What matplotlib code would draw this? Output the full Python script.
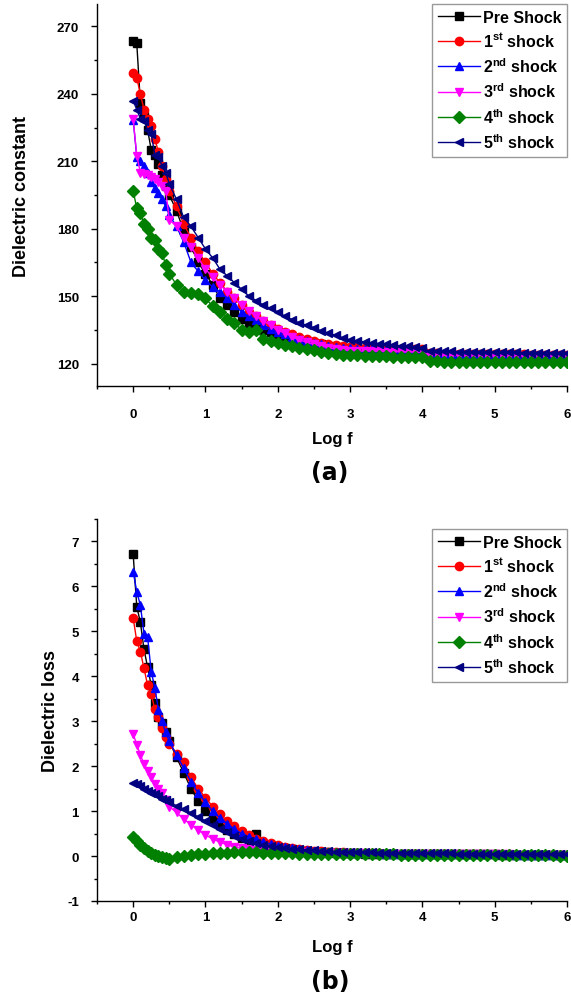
import matplotlib
matplotlib.use("Agg")
import matplotlib.pyplot as plt
from matplotlib.ticker import MultipleLocator

plt.rcParams["font.family"] = ["Liberation Sans", "DejaVu Sans"]
plt.rcParams["font.weight"] = "bold"
plt.rcParams["mathtext.fontset"] = "custom"
plt.rcParams["mathtext.rm"] = "Liberation Sans:bold"
plt.rcParams["mathtext.bf"] = "Liberation Sans:bold"
plt.rcParams["axes.unicode_minus"] = False

# log f grid (denser at the low-frequency end)
log_f = [0.0, 0.05, 0.1, 0.15, 0.2, 0.25, 0.3, 0.35, 0.4, 0.45,
         0.5, 0.6, 0.7, 0.8, 0.9, 1.0, 1.1, 1.2, 1.3, 1.4,
         1.5, 1.6, 1.7, 1.8, 1.9, 2.0, 2.1, 2.2, 2.3, 2.4,
         2.5, 2.6, 2.7, 2.8, 2.9, 3.0, 3.1, 3.2, 3.3, 3.4,
         3.5, 3.6, 3.7, 3.8, 3.9, 4.0, 4.1, 4.2, 4.3, 4.4,
         4.5, 4.6, 4.7, 4.8, 4.9, 5.0, 5.1, 5.2, 5.3, 5.4,
         5.5, 5.6, 5.7, 5.8, 5.9, 6.0]

labels = ["Pre Shock", "1$^{\\mathrm{st}}$ shock", "2$^{\\mathrm{nd}}$ shock",
          "3$^{\\mathrm{rd}}$ shock", "4$^{\\mathrm{th}}$ shock", "5$^{\\mathrm{th}}$ shock"]
colors = ["#000000", "#ff0000", "#0000ff", "#ff00ff", "#008000", "#000080"]
markers = ["s", "o", "^", "v", "D", "<"]

# (a) dielectric constant
eps_pre = [263.5, 262.5, 236, 230, 224, 215, 213, 209, 204, 199,
           195, 188, 179, 172, 165, 160, 155, 149, 146, 143,
           140, 138, 137, 135, 134, 133, 132, 131, 130, 129.5,
           129, 128.5, 128, 127.5, 127, 126.5, 126.4, 126.3, 126.2, 126.1,
           126.0, 125.9, 125.8, 125.7, 125.6, 125.5, 124.0, 124.0, 123.9, 123.9,
           123.8, 123.8, 123.8, 123.7, 123.7, 123.7, 123.6, 123.6, 123.6, 123.6,
           123.5, 123.5, 123.5, 123.5, 123.5, 123.5]
eps_1st = [249.5, 247, 240, 233, 229, 225.5, 220, 214, 208, 202,
           197, 190, 182, 176, 170, 165, 160, 156, 152, 149,
           146, 143, 141, 139, 137, 135.5, 134, 133, 132, 131,
           130, 129.3, 128.7, 128.2, 127.7, 127.3, 127.2, 127.1, 127.0, 126.9,
           126.8, 126.7, 126.6, 126.5, 126.4, 126.3, 124.5, 124.5, 124.4, 124.4,
           124.3, 124.3, 124.3, 124.2, 124.2, 124.2, 124.1, 124.1, 124.1, 124.1,
           124.0, 124.0, 124.0, 124.0, 124.0, 124.0]
eps_2nd = [228.5, 212, 210, 208, 205, 201, 198, 196, 193, 190,
           186, 181, 174, 165, 161, 157, 154, 152, 149, 146,
           143, 141, 139.5, 137, 135.5, 134, 133, 132, 131, 130,
           129, 128.5, 128, 127.5, 127, 126.7, 126.6, 126.5, 126.4, 126.3,
           126.2, 126.1, 126.0, 125.9, 125.9, 125.8, 124.3, 124.3, 124.2, 124.2,
           124.1, 124.1, 124.1, 124.0, 124.0, 124.0, 123.9, 123.9, 123.9, 123.9,
           123.8, 123.8, 123.8, 123.8, 123.8, 123.8]
eps_3rd = [229, 212.5, 205, 204.5, 204, 203, 202, 201, 199, 197,
           184, 181, 176, 172, 167, 162, 158.5, 155, 152, 149,
           146, 143.5, 141, 139, 137, 135, 133.5, 132, 130.5, 129.5,
           128.5, 127.8, 127, 126.5, 126, 125.7, 125.6, 125.5, 125.5, 125.4,
           125.3, 125.3, 125.2, 125.1, 125.1, 125.0, 123.8, 123.8, 123.7, 123.7,
           123.6, 123.6, 123.6, 123.5, 123.5, 123.5, 123.4, 123.4, 123.4, 123.4,
           123.3, 123.3, 123.3, 123.3, 123.3, 123.3]
eps_4th = [197, 189, 187, 182, 180, 176, 175, 171, 169, 164,
           160, 155, 152, 151.5, 151, 149, 145.5, 143, 140, 138,
           135, 134, 135, 131, 130, 129, 128.3, 127.6, 127, 126.4,
           125.8, 125.3, 124.8, 124.4, 124, 123.7, 123.6, 123.5, 123.4, 123.3,
           123.2, 123.1, 123.0, 122.9, 122.8, 122.7, 121.0, 121.0, 120.9, 120.9,
           120.9, 120.8, 120.8, 120.8, 120.7, 120.7, 120.7, 120.7, 120.6, 120.6,
           120.6, 120.6, 120.5, 120.5, 120.5, 120.5]
eps_5th = [237, 233, 229, 228, 224, 222, 213, 212, 208, 205,
           200, 193, 185, 181, 176, 171, 167, 162, 159, 156,
           153, 150, 148, 146, 144.5, 143, 141, 139.5, 138, 137,
           136, 134.5, 133.5, 132.5, 131.5, 130.5, 130, 129.6, 129.2, 128.8,
           128.5, 128.2, 127.9, 127.6, 127.3, 127.0, 125.5, 125.5, 125.4, 125.4,
           125.3, 125.3, 125.2, 125.2, 125.1, 125.1, 125.0, 125.0, 125.0, 124.9,
           124.9, 124.9, 124.8, 124.8, 124.8, 124.8]

# (b) dielectric loss
loss_pre = [6.72, 5.55, 5.2, 4.6, 4.2, 3.8, 3.4, 3.1, 2.95, 2.75,
            2.55, 2.2, 1.85, 1.5, 1.22, 1.0, 0.82, 0.68, 0.57, 0.48,
            0.41, 0.36, 0.48, 0.27, 0.23, 0.2, 0.17, 0.15, 0.13, 0.11,
            0.1, 0.09, 0.08, 0.07, 0.065, 0.06, 0.058, 0.056, 0.054, 0.052,
            0.05, 0.048, 0.047, 0.046, 0.045, 0.044, 0.043, 0.042, 0.041, 0.04,
            0.039, 0.038, 0.037, 0.036, 0.035, 0.035, 0.034, 0.034, 0.033, 0.033,
            0.032, 0.032, 0.031, 0.031, 0.03, 0.03]
loss_1st = [5.3, 4.78, 4.55, 4.18, 3.8, 3.6, 3.27, 3.1, 2.85, 2.65,
            2.5, 2.28, 2.1, 1.75, 1.5, 1.3, 1.1, 0.93, 0.78, 0.66,
            0.55, 0.46, 0.39, 0.33, 0.28, 0.24, 0.21, 0.18, 0.16, 0.14,
            0.12, 0.11, 0.1, 0.09, 0.08, 0.07, 0.067, 0.064, 0.061, 0.058,
            0.056, 0.054, 0.052, 0.05, 0.048, 0.046, 0.045, 0.044, 0.043, 0.042,
            0.041, 0.04, 0.039, 0.038, 0.037, 0.036, 0.035, 0.035, 0.034, 0.034,
            0.033, 0.033, 0.032, 0.032, 0.031, 0.031]
loss_2nd = [6.33, 5.88, 5.58, 4.95, 4.87, 4.1, 3.75, 3.25, 3.0, 2.75,
            2.55, 2.25, 1.95, 1.65, 1.4, 1.2, 1.0, 0.85, 0.72, 0.6,
            0.5, 0.43, 0.37, 0.31, 0.27, 0.23, 0.2, 0.17, 0.15, 0.13,
            0.12, 0.1, 0.09, 0.085, 0.08, 0.07, 0.067, 0.064, 0.061, 0.058,
            0.056, 0.054, 0.052, 0.05, 0.048, 0.046, 0.045, 0.044, 0.043, 0.042,
            0.041, 0.04, 0.039, 0.038, 0.037, 0.036, 0.035, 0.035, 0.034, 0.034,
            0.033, 0.033, 0.032, 0.032, 0.031, 0.031]
loss_3rd = [2.72, 2.48, 2.25, 2.05, 1.9, 1.75, 1.6, 1.5, 1.4, 1.25,
            1.1, 0.97, 0.82, 0.7, 0.57, 0.47, 0.38, 0.31, 0.25, 0.2,
            0.17, 0.15, 0.13, 0.12, 0.11, 0.1, 0.095, 0.09, 0.085, 0.08,
            0.077, 0.074, 0.071, 0.068, 0.065, 0.062, 0.06, 0.058, 0.056, 0.054,
            0.052, 0.05, 0.049, 0.048, 0.047, 0.046, 0.045, 0.044, 0.043, 0.042,
            0.041, 0.04, 0.039, 0.038, 0.037, 0.036, 0.035, 0.035, 0.034, 0.034,
            0.033, 0.033, 0.032, 0.032, 0.031, 0.031]
loss_4th = [0.42, 0.33, 0.25, 0.18, 0.12, 0.07, 0.03, 0.0, -0.03, -0.05,
            -0.06, -0.03, 0.0, 0.02, 0.04, 0.05, 0.06, 0.07, 0.07, 0.08,
            0.08, 0.08, 0.08, 0.07, 0.07, 0.06, 0.06, 0.058, 0.056, 0.054,
            0.052, 0.05, 0.048, 0.046, 0.044, 0.042, 0.04, 0.039, 0.038, 0.037,
            0.036, 0.035, 0.034, 0.033, 0.032, 0.031, 0.03, 0.029, 0.028, 0.027,
            0.026, 0.025, 0.024, 0.023, 0.022, 0.021, 0.02, 0.019, 0.018, 0.017,
            0.016, 0.015, 0.014, 0.013, 0.012, 0.011]
loss_5th = [1.63, 1.6, 1.55, 1.5, 1.45, 1.4, 1.37, 1.33, 1.28, 1.24,
            1.2, 1.12, 1.04, 0.96, 0.87, 0.78, 0.7, 0.61, 0.53, 0.45,
            0.39, 0.33, 0.29, 0.25, 0.22, 0.2, 0.18, 0.16, 0.15, 0.14,
            0.13, 0.12, 0.11, 0.1, 0.095, 0.09, 0.087, 0.084, 0.081, 0.078,
            0.075, 0.072, 0.07, 0.068, 0.066, 0.064, 0.062, 0.06, 0.058, 0.057,
            0.056, 0.055, 0.054, 0.053, 0.052, 0.051, 0.05, 0.049, 0.048, 0.047,
            0.046, 0.045, 0.044, 0.043, 0.042, 0.041]

eps_all = [eps_pre, eps_1st, eps_2nd, eps_3rd, eps_4th, eps_5th]
loss_all = [loss_pre, loss_1st, loss_2nd, loss_3rd, loss_4th, loss_5th]

W, H = 571, 1003
fig = plt.figure(figsize=(W / 100, H / 100), dpi=100)
ax_a = fig.add_axes([97 / W, 1 - 387 / H, 470 / W, 382 / H])
ax_b = fig.add_axes([97 / W, 1 - 902 / H, 470 / W, 382 / H])


def style_axis(ax, ylabel, ylim, ymajor, yminor, ylabelpad, xpad, xlabelpad, leg_top):
    for side in ("top", "right"):
        ax.spines[side].set_visible(False)
    ax.spines["left"].set_linewidth(1.0)
    ax.spines["bottom"].set_linewidth(1.0)
    ax.set_xlim(-0.5, 6)
    ax.set_ylim(*ylim)
    ax.xaxis.set_major_locator(MultipleLocator(1))
    ax.xaxis.set_minor_locator(MultipleLocator(0.5))
    ax.yaxis.set_major_locator(MultipleLocator(ymajor))
    ax.yaxis.set_minor_locator(MultipleLocator(yminor))
    ax.tick_params(which="major", direction="out", length=4, width=1, labelsize=9.5)
    ax.tick_params(axis="y", which="major", pad=9)
    ax.tick_params(axis="x", which="major", pad=xpad)
    ax.tick_params(which="minor", direction="out", length=2.5, width=1)
    for t in ax.get_xticklabels() + ax.get_yticklabels():
        t.set_fontweight("bold")
    ax.set_xlabel("Log f", fontsize=12, fontweight="bold", labelpad=xlabelpad)
    ax.set_ylabel(ylabel, fontsize=13, fontweight="bold", labelpad=ylabelpad)
    leg = ax.legend(loc="upper right", bbox_to_anchor=(567 / W, 1 - leg_top / H),
                    bbox_transform=fig.transFigure, fontsize=11.5, frameon=True,
                    fancybox=False, edgecolor="#808080", handlelength=2.6,
                    handletextpad=0.2, labelspacing=0.42, borderpad=0.35,
                    borderaxespad=0.0, markerscale=1.0)
    leg.get_frame().set_linewidth(1.0)
    for t in leg.get_texts():
        t.set_fontweight("bold")


for ys, lab, c, m in zip(eps_all, labels, colors, markers):
    ax_a.plot(log_f, ys, color=c, marker=m, markersize=6, linewidth=1.0, label=lab)
style_axis(ax_a, "Dielectric constant", (110, 280), 30, 15, 19, 12, 8, 5)

for ys, lab, c, m in zip(loss_all, labels, colors, markers):
    ax_b.plot(log_f, ys, color=c, marker=m, markersize=6, linewidth=1.0, label=lab)
style_axis(ax_b, "Dielectric loss", (-1, 7.5), 1, 0.5, 6, 3, 12, 530)

fig.text(330 / W, 1 - 473 / H, "(a)", ha="center", va="center",
         fontsize=17, fontweight="bold", family=["DejaVu Sans"])
fig.text(330 / W, 1 - 982 / H, "(b)", ha="center", va="center",
         fontsize=17, fontweight="bold", family=["DejaVu Sans"])

fig.savefig("out.png", dpi=100)
